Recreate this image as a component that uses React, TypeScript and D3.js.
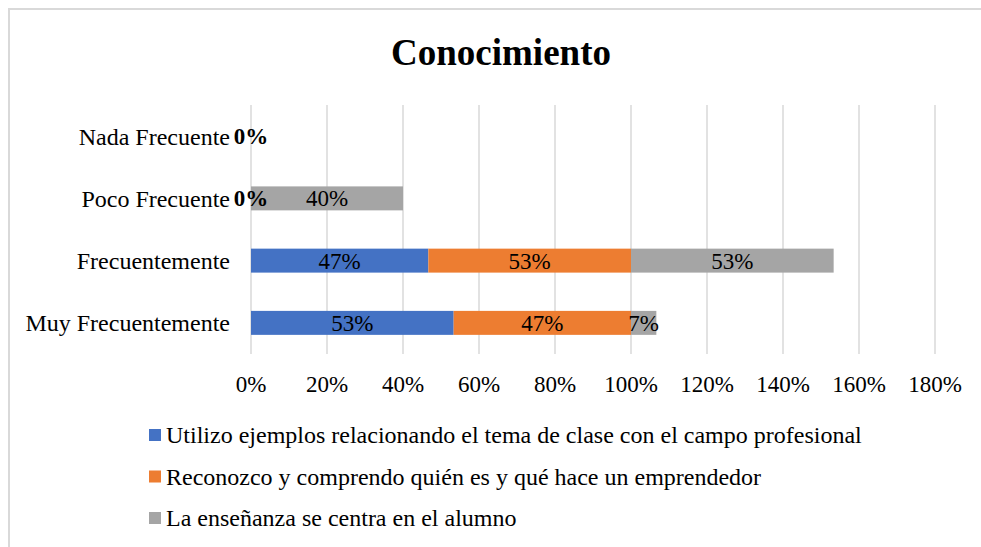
import React from 'react';
import * as d3 from 'd3';

const categories = ['Nada Frecuente', 'Poco Frecuente', 'Frecuentemente', 'Muy Frecuentemente'];
const seriesNames = [
  'Utilizo ejemplos relacionando el tema de clase con el campo profesional',
  'Reconozco y comprendo quién es y qué hace un emprendedor',
  'La enseñanza se centra en el alumno',
];
const utilizo = [0, 0, 0.4667, 0.5333];
const reconozco = [0, 0, 0.5333, 0.4667];
const ensenanza = [0, 0.4, 0.5333, 0.0667];
const colors = ['#4472C4', '#ED7D31', '#A5A5A5'];
const ticks = [0, 0.2, 0.4, 0.6, 0.8, 1.0, 1.2, 1.4, 1.6, 1.8];

const W = 981;
const H = 547;
const font = '"Liberation Serif", "Times New Roman", serif';

const App = () => {
  const rows = categories.map((c, i) => ({ cat: c, s0: utilizo[i], s1: reconozco[i], s2: ensenanza[i] }));
  const stacked = d3.stack<any>().keys(['s0', 's1', 's2'])(rows);

  const x = d3.scaleLinear().domain([0, 1.8]).range([251, 935]);
  const y = d3
    .scaleBand()
    .domain(categories)
    .range([105, 354])
    .paddingInner(0.615)
    .paddingOuter(0.3075);

  const fmt = (v: number) => `${Math.round(v * 100)}%`;

  return (
    <svg width={W} height={H} style={{ position: 'absolute', left: 0, top: 0 }} fontFamily={font}>
      <rect x={0} y={0} width={W} height={H} fill="#fff" />
      <rect x={9} y={9} width={W + 20} height={H + 20} fill="none" stroke="#d9d9d9" strokeWidth={2} />

      <text x={501} y={65} textAnchor="middle" fontSize={37} fontWeight="bold" fill="#000">
        Conocimiento
      </text>

      {/* gridlines */}
      {ticks.map((t) => (
        <line key={t} x1={x(t)} x2={x(t)} y1={105} y2={354} stroke="#d9d9d9" strokeWidth={1.5} />
      ))}

      {/* tick labels */}
      {ticks.map((t) => (
        <text key={'l' + t} x={x(t)} y={392} textAnchor="middle" fontSize={23} fill="#000">
          {fmt(t)}
        </text>
      ))}

      {/* category labels */}
      {categories.map((c) => (
        <text
          key={c}
          x={230}
          y={(y(c) as number) + y.bandwidth() / 2}
          dy="0.35em"
          textAnchor="end"
          fontSize={24}
          fill="#000"
        >
          {c}
        </text>
      ))}

      {/* bars */}
      {stacked.map((s, si) => (
        <g key={s.key}>
          {s.map((d: any) => (
            <rect
              key={d.data.cat}
              x={x(d[0])}
              y={y(d.data.cat)}
              width={x(d[1]) - x(d[0])}
              height={y.bandwidth()}
              fill={colors[si]}
            />
          ))}
        </g>
      ))}

      {/* data labels */}
      {stacked.map((s) => (
        <g key={'t' + s.key}>
          {s
            .filter((d: any) => !(d.data.cat === 'Nada Frecuente' && s.key !== 's0') && !(d.data.cat === 'Poco Frecuente' && s.key === 's1'))
            .map((d: any) => {
              const v = d[1] - d[0];
              return (
                <text
                  key={d.data.cat}
                  x={(x(d[0]) + x(d[1])) / 2}
                  y={(y(d.data.cat) as number) + y.bandwidth() / 2}
                  dy="0.35em"
                  textAnchor="middle"
                  fontSize={23}
                  fontWeight={v === 0 ? 'bold' : 'normal'}
                  fill="#000"
                >
                  {fmt(v)}
                </text>
              );
            })}
        </g>
      ))}

      {/* legend */}
      {seriesNames.map((n, i) => (
        <g key={n} transform={`translate(149,${435 + i * 41.5})`}>
          <rect x={0} y={-6} width={12} height={12} fill={colors[i]} />
          <text x={17} y={0} dy="0.35em" fontSize={24} fill="#000">
            {n}
          </text>
        </g>
      ))}
    </svg>
  );
};

export default App;
